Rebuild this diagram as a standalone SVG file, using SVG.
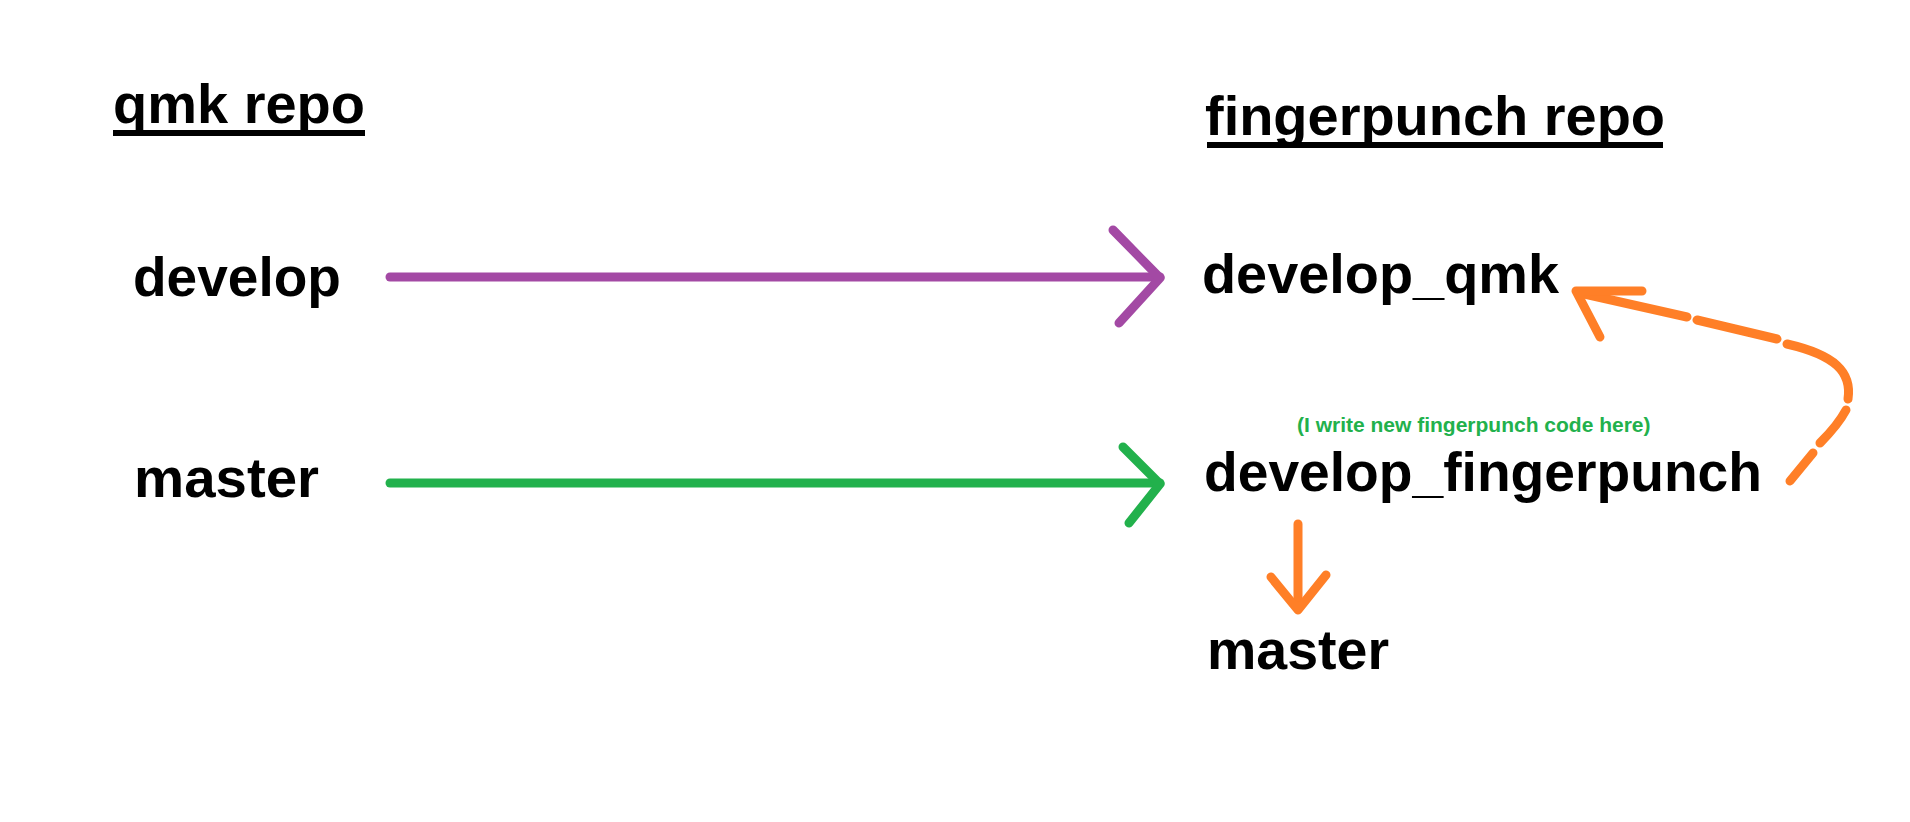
<svg xmlns="http://www.w3.org/2000/svg" width="1910" height="822" viewBox="0 0 1910 822">
<style>
.t{font-family:"Liberation Sans",Arial,sans-serif;font-weight:bold;fill:#000}
.big{font-size:56px}
.hd{font-size:55px}
.note{font-family:"Liberation Sans",Arial,sans-serif;font-weight:bold;font-size:21px;fill:#22b14c}
.ln{fill:none;stroke-width:9;stroke-linecap:round;stroke-linejoin:round}
.pu{stroke:#a349a4}
.gr{stroke:#22b14c}
.or{stroke:#ff7f27}
</style>
<rect width="1910" height="822" fill="#fff"/>
<g id="hdr-qmk">
<text class="t hd" x="113" y="123" textLength="252" lengthAdjust="spacingAndGlyphs">qmk repo</text>
<rect x="113" y="130" width="252" height="6" fill="#000"/>
</g>
<g id="hdr-fp">
<text class="t hd" x="1205" y="135" textLength="460" lengthAdjust="spacingAndGlyphs">fingerpunch repo</text>
<rect x="1207" y="142" width="456" height="6" fill="#000"/>
</g>
<g id="qmk-develop"><text class="t big" x="133" y="296" textLength="208" lengthAdjust="spacingAndGlyphs">develop</text></g>
<g id="qmk-master"><text class="t big" x="134" y="497" textLength="185" lengthAdjust="spacingAndGlyphs">master</text></g>
<g id="fp-develop-qmk"><text class="t big" x="1202" y="293" textLength="357" lengthAdjust="spacingAndGlyphs">develop_qmk</text></g>
<g id="fp-develop-fingerpunch">
<text class="note" x="1297" y="432">(I write new fingerpunch code here)</text>
<text class="t big" x="1204" y="491" textLength="558" lengthAdjust="spacingAndGlyphs">develop_fingerpunch</text>
</g>
<g id="fp-master"><text class="t big" x="1207" y="669" textLength="182" lengthAdjust="spacingAndGlyphs">master</text></g>
<g id="connectors">
<path class="ln pu" d="M390,277 L1160,277" stroke-width="10"/>
<path class="ln pu" d="M1113,230 L1160,278 L1119,323"/>
<path class="ln gr" d="M390,483 L1160,483" stroke-width="10"/>
<path class="ln gr" d="M1123,447 L1160,484 L1129,523"/>
<path class="ln or" d="M1298,524 L1298,609"/>
<path class="ln or" d="M1271,577 L1298,610 L1326,575"/>
<path class="ln or" d="M1790,481 L1813,453"/>
<path class="ln or" d="M1820,443 Q1838,425 1846,410"/>
<path class="ln or" d="M1848,399 C1852,372 1835,355 1787,344"/>
<path class="ln or" d="M1777,339 L1697,320"/>
<path class="ln or" d="M1687,317 L1580,293"/>
<path class="ln or" d="M1642,291 L1576,291 L1600,337" stroke-linecap="butt"/>
</g>
</svg>
